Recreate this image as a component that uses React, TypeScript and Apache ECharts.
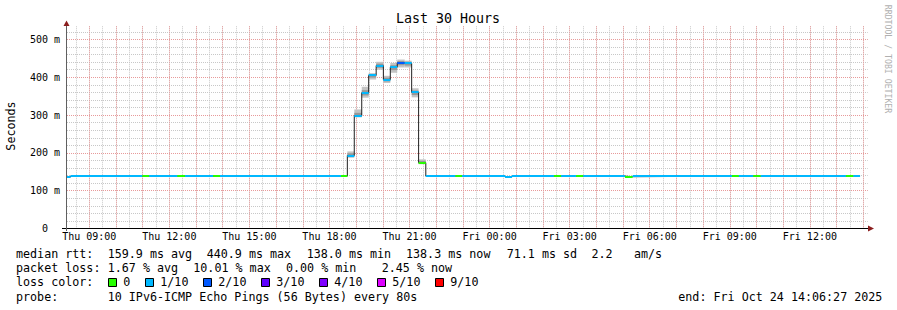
import React, { useEffect, useRef } from 'react';
import * as echarts from 'echarts';

const MONO = '"DejaVu Sans Mono", "Liberation Mono", monospace';

const chartTitle = 'Last 30 Hours';
const yAxisTitle = 'Seconds';
const watermark = 'RRDTOOL / TOBI OETIKER';

// time in hours since Thu 00:00
const timeMin = 8 + 10 / 60; // Thu 08:10
const timeMax = 38 + 10 / 60; // Fri 14:10
const dataEnd = 37.88;

const xTickHours = [9, 12, 15, 18, 21, 24, 27, 30, 33, 36];
const xTickLabels = ['Thu 09:00', 'Thu 12:00', 'Thu 15:00', 'Thu 18:00', 'Thu 21:00', 'Fri 00:00', 'Fri 03:00', 'Fri 06:00', 'Fri 09:00', 'Fri 12:00'];
const yTickValues = [0, 100, 200, 300, 400, 500];
const yTickLabels = ['0', '100 m', '200 m', '300 m', '400 m', '500 m'];
const yMax = 535;

const lossLabels = ['0', '1/10', '2/10', '3/10', '4/10', '5/10', '9/10'];
const lossColors = ['#26ff00', '#00b8ff', '#0059ff', '#5e00ff', '#7e00ff', '#dd00ff', '#ff0000'];

// median rtt step segments (start hour, median ms, loss colour index)
const segStart = [8.1667, 8.30, 10.99, 11.25, 12.30, 12.59, 13.64, 13.90, 18.43, 18.67, 18.93, 19.21, 19.47, 19.75, 20.02, 20.28, 20.54, 20.82, 21.08, 21.34, 21.61, 22.72, 22.97, 24.58, 24.84, 26.41, 26.68, 27.24, 27.51, 29.07, 29.36, 33.08, 33.34, 33.88, 34.16, 37.35, 37.63];
const medianMs = [136.5, 138.5, 138.5, 138.5, 138.5, 138.5, 138.5, 138.5, 138.5, 193, 298, 359, 405, 431, 394, 427, 438, 437, 360, 174, 138.5, 138.5, 138.5, 136, 138.5, 138.5, 138.5, 138.5, 138.5, 137, 138.5, 138.5, 138.5, 138.5, 138.5, 138.5, 138.3];
const lossLevel = [1, 1, 0, 1, 0, 1, 0, 1, 0, 1, 1, 1, 1, 1, 1, 1, 2, 1, 1, 0, 1, 0, 1, 1, 1, 0, 1, 0, 1, 0, 1, 0, 1, 0, 1, 0, 1];
const N = null;
const smokeLow = [N, N, N, N, N, N, N, N, N, 187, 294, 346, 394, 420, 385, 412, 426, 426, 347, 170, N, N, N, N, N, N, N, N, N, N, N, N, N, N, N, N, N];
const smokeHigh = [N, N, N, N, N, N, N, N, N, 204, 315, 375, 411, 441, 404, 438, 447, 444, 371, 183, N, N, N, N, N, N, N, N, N, N, N, N, N, N, N, N, N];
const smokeLowInner = [N, N, N, N, N, N, N, N, N, 190, 296, 352, 399, 425, 389, 419, 432, 431, 353, 172, N, N, N, N, N, N, N, N, N, N, N, N, N, N, N, N, N];
const smokeHighInner = [N, N, N, N, N, N, N, N, N, 199, 306, 366, 408, 436, 399, 432, 443, 441, 365, 179, N, N, N, N, N, N, N, N, N, N, N, N, N, N, N, N, N];

const rttStats = ['median rtt:', '159.9 ms avg', '440.9 ms max', '138.0 ms min', '138.3 ms now', '71.1 ms sd', '2.2', 'am/s'];
const lossStats = ['packet loss:', '1.67 % avg', '10.01 % max', '0.00 % min', '2.45 % now'];
const probeTexts = ['probe:', '10 IPv6-ICMP Echo Pings (56 Bytes) every 80s', 'end: Fri Oct 24 14:06:27 2025'];
const lossColorTitle = 'loss color:';

const rttX = [16, 107.7, 206.7, 306.7, 406, 506.7, 591.5, 634];
const lossX = [16, 107.7, 193.3, 286, 381.7];
const probeX = [16, 107.7, 678.3];
const squareX = [108.5, 145.5, 203.5, 261.5, 319.5, 377.5, 435.5];

export default function App() {
  const ref = useRef<HTMLDivElement>(null);
  useEffect(() => {
    const chart = echarts.init(ref.current!, null, { renderer: 'svg' });

    const hourTicks: number[] = [];
    for (let h = 9; h <= 38; h++) hourTicks.push(h);
    const halfTicks: number[] = [];
    for (let h = 8.5; h <= 38; h += 0.5) halfTicks.push(h);
    const minorY: number[] = [];
    for (let v = 20; v <= 520; v += 20) minorY.push(v);

    const segEnd = (i: number) => (i + 1 < segStart.length ? segStart[i + 1] : dataEnd);

    const lineData = segStart.map((t, i) => [t, medianMs[i]]);
    lineData.push([dataEnd, medianMs[medianMs.length - 1]]);

    const lossData = segStart.map((t, i) => [t, segEnd(i), medianMs[i], lossLevel[i]]);
    const smokeData: number[][] = [];
    segStart.forEach((t, i) => {
      if (smokeLow[i] != null) {
        smokeData.push([t, segEnd(i), smokeLow[i] as number, smokeHigh[i] as number, smokeLowInner[i] as number, smokeHighInner[i] as number]);
      }
    });

    const txt = (text: string, x: number, y: number, extra: any = {}) => ({
      type: 'text',
      x,
      y,
      silent: true,
      style: { text, fontFamily: MONO, fontSize: 11.7, fill: '#000', align: 'left', verticalAlign: 'middle', ...extra },
    });

    const graphics: any[] = [];
    graphics.push(txt(chartTitle, 448, 18.5, { align: 'center', fontSize: 13.3 }));
    graphics.push({ ...txt(yAxisTitle, 11, 126, { align: 'center' }), rotation: Math.PI / 2 });
    graphics.push({ ...txt(watermark, 888, 59, { align: 'center', fontSize: 8.2, fill: '#b0b0b0' }), rotation: -Math.PI / 2 });
    rttStats.forEach((s, i) => graphics.push(txt(s, rttX[i], 254.3)));
    lossStats.forEach((s, i) => graphics.push(txt(s, lossX[i], 268)));
    graphics.push(txt(lossColorTitle, 16, 282.3));
    lossLabels.forEach((s, i) => {
      graphics.push({
        type: 'rect',
        silent: true,
        shape: { x: squareX[i], y: 278.5, width: 8, height: 8 },
        style: { fill: lossColors[i], stroke: '#000', lineWidth: 1 },
      });
      graphics.push(txt(s, squareX[i] + 14.8, 282.3));
    });
    probeTexts.forEach((s, i) => graphics.push(txt(s, probeX[i], 297)));
    // axes lines and arrows
    graphics.push({ type: 'line', silent: true, z: 10, shape: { x1: 62, y1: 228.5, x2: 869, y2: 228.5 }, style: { stroke: '#000', lineWidth: 1 } });
    graphics.push({ type: 'line', silent: true, z: 10, shape: { x1: 66.5, y1: 231, x2: 66.5, y2: 25 }, style: { stroke: '#606060', lineWidth: 1 } });
    graphics.push({ type: 'polygon', silent: true, z: 10, shape: { points: [[63.5, 26], [69.5, 26], [66.5, 20.5]] }, style: { fill: '#8b1e1e' } });
    graphics.push({ type: 'polygon', silent: true, z: 10, shape: { points: [[868, 225.5], [868, 231.5], [874, 228.5]] }, style: { fill: '#8b1e1e' } });

    const gridLeft = 67;
    const gridTop = 26.27;
    const gridW = 800.7;
    const gridH = 202.23;

    const option: any = {
      animation: false,
      backgroundColor: '#ffffff',
      grid: { left: gridLeft, top: gridTop, width: gridW, height: gridH, containLabel: false },
      xAxis: [
        {
          type: 'value',
          gridIndex: 0,
          min: timeMin,
          max: timeMax,
          z: 1,
          axisLine: { show: false },
          axisTick: { show: false, customValues: hourTicks },
          axisLabel: {
            customValues: xTickHours,
            margin: 3,
            fontFamily: MONO,
            fontSize: 10,
            color: '#000',
            formatter: (v: number) => {
              const i = xTickHours.findIndex((h) => Math.abs(h - v) < 1e-6);
              return i >= 0 ? xTickLabels[i] : '';
            },
          },
          splitLine: { show: true, lineStyle: { color: '#e89a9a', width: 1, type: [1, 1] } },
        },
        {
          type: 'value',
          gridIndex: 0,
          min: timeMin,
          max: timeMax,
          z: 0,
          axisLine: { show: false },
          axisTick: { show: false, customValues: halfTicks },
          axisLabel: { show: false },
          splitLine: { show: true, lineStyle: { color: '#c8c8c8', width: 1, type: [1, 1] } },
        },
      ],
      yAxis: [
        {
          type: 'value',
          gridIndex: 0,
          min: 0,
          max: yMax,
          z: 1,
          axisLine: { show: false },
          axisTick: { show: false, customValues: yTickValues },
          axisLabel: {
            customValues: yTickValues,
            margin: 7,
            fontFamily: MONO,
            fontSize: 10,
            color: '#000',
            formatter: (v: number) => {
              const i = yTickValues.findIndex((h) => Math.abs(h - v) < 1e-6);
              if (i < 0) return '';
              return v === 0 ? '{z|' + yTickLabels[i] + '}' : yTickLabels[i];
            },
            rich: { z: { fontFamily: MONO, fontSize: 10, color: '#000', padding: [0, 12, 0, 0] } },
          },
          splitLine: { show: true, lineStyle: { color: '#e89a9a', width: 1, type: [1, 1] } },
        },
        {
          type: 'value',
          gridIndex: 0,
          min: 0,
          max: yMax,
          z: 0,
          axisLine: { show: false },
          axisTick: { show: false, customValues: minorY },
          axisLabel: { show: false },
          splitLine: { show: true, lineStyle: { color: '#c8c8c8', width: 1, type: [1, 1] } },
        },
      ],
      series: [
        {
          type: 'custom',
          name: 'smoke',
          xAxisIndex: 0,
          yAxisIndex: 0,
          z: 2,
          silent: true,
          encode: { x: [0, 1], y: [2, 3] },
          data: smokeData,
          renderItem: (params: any, api: any) => {
            const t0 = api.value(0);
            const t1 = api.value(1);
            const a = api.coord([t0, api.value(3)]);
            const b = api.coord([t1, api.value(2)]);
            const c = api.coord([t0, api.value(5)]);
            const d = api.coord([t1, api.value(4)]);
            return {
              type: 'group',
              children: [
                { type: 'rect', shape: { x: a[0], y: a[1], width: b[0] - a[0], height: b[1] - a[1] }, style: { fill: '#c4c4c4' } },
                { type: 'rect', shape: { x: c[0], y: c[1], width: d[0] - c[0], height: d[1] - c[1] }, style: { fill: '#989898' } },
              ],
            };
          },
        },
        {
          type: 'line',
          name: 'median',
          xAxisIndex: 0,
          yAxisIndex: 0,
          z: 3,
          step: 'end',
          showSymbol: false,
          silent: true,
          data: lineData,
          lineStyle: { color: '#202020', width: 1 },
        },
        {
          type: 'custom',
          name: 'loss',
          xAxisIndex: 0,
          yAxisIndex: 0,
          z: 4,
          silent: true,
          encode: { x: [0, 1], y: 2 },
          data: lossData,
          renderItem: (params: any, api: any) => {
            const p0 = api.coord([api.value(0), api.value(2)]);
            const p1 = api.coord([api.value(1), api.value(2)]);
            const y = Math.round(p0[1]) - 1;
            return {
              type: 'rect',
              shape: { x: p0[0], y, width: p1[0] - p0[0], height: 2 },
              style: { fill: lossColors[api.value(3)] },
            };
          },
        },
      ],
      graphic: { elements: graphics },
    };

    chart.setOption(option);
    return () => chart.dispose();
  }, []);

  return (
    <div
      ref={ref}
      style={{ position: 'absolute', left: 0, top: 0, width: 897, height: 310, background: '#ffffff' }}
    />
  );
}
